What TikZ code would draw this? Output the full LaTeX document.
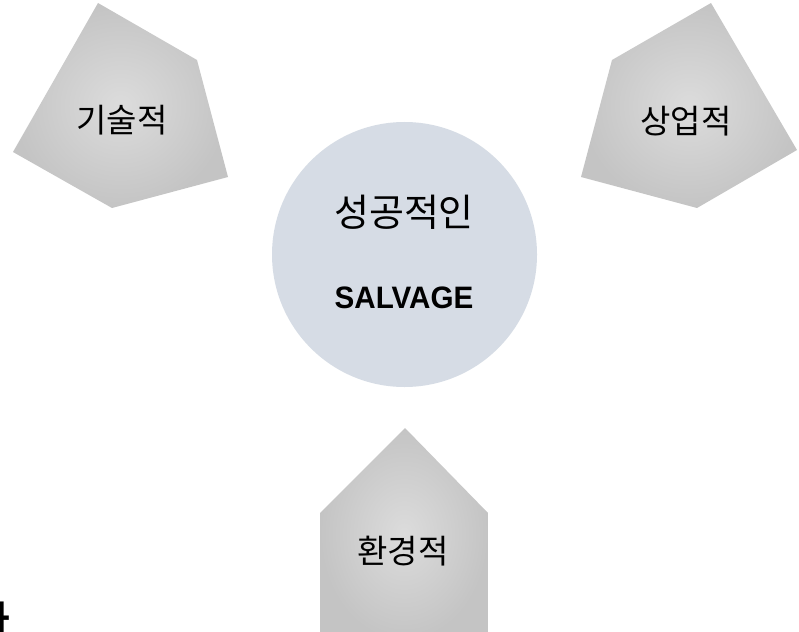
\documentclass[tikz,border=0pt]{standalone}
\usepackage{fontspec}
\setmainfont{Liberation Sans}
\newfontfamily\kr{Noto Sans CJK KR}
\newfontfamily\krb{Noto Sans CJK KR Bold}
\definecolor{circfill}{HTML}{D6DCE5}
\definecolor{pentin}{HTML}{DCDCDC}
\definecolor{pentout}{HTML}{C4C4C4}
\tikzset{
  pent/.style={inner color=pentin, outer color=pentout, draw=none},
  lbl/.style={font=\kr\fontsize{33}{36}\selectfont, text=black, inner sep=0pt},
}
\begin{document}
\begin{tikzpicture}[x=1pt,y=-1pt]
\useasboundingbox (0,0) rectangle (799,631);
\clip (0,0) rectangle (799,631);
\fill[white] (0,0) rectangle (799,631);
% left pentagon
\shade[pent] (98,3) -- (197,60) -- (228,177) -- (112,208) -- (13,152) -- cycle;
% right pentagon
\shade[pent] (711,3) -- (797,150) -- (697,208) -- (581,177) -- (612,60) -- cycle;
% bottom pentagon
\shade[pent] (405,428) -- (488,513) -- (488,640) -- (320,640) -- (320,513) -- cycle;
% circle
\fill[circfill] (404.5,254.5) circle[radius=132.5];
\node[lbl] (tech) at (122,120) {기술적};
\node[lbl] (comm) at (686,121) {상업적};
\node[lbl] (env) at (403,551) {환경적};
\node[font=\kr\fontsize{38}{42}\selectfont, inner sep=0pt] (succ) at (404,212) {성공적인};
\node[font=\bfseries\fontsize{31}{34}\selectfont, inner sep=0pt, xscale=0.955] (salv) at (404,297.5) {SALVAGE};
\node[font=\krb\fontsize{40}{44}\selectfont, inner sep=0pt, anchor=base west] (frag) at (-27,635) {나};
\end{tikzpicture}
\end{document}
